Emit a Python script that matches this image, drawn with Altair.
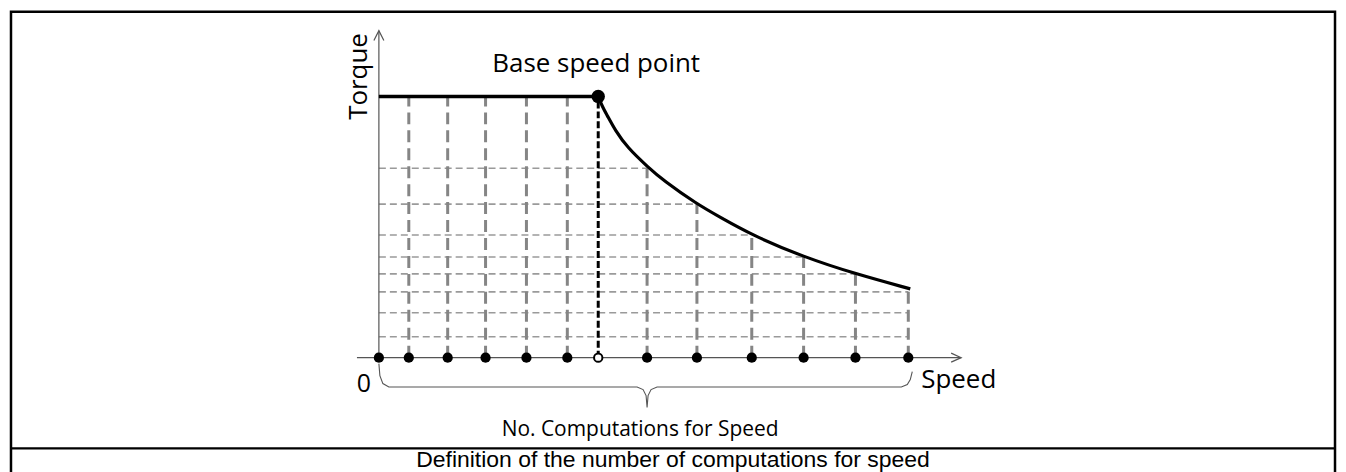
import altair as alt
import pandas as pd

# ---------------- data (drawing units) ----------------
speed_points = [0, 30, 69, 107, 148, 189, 220, 269, 319, 374, 426, 478, 531]
base_index = 6
t_max = 262
vline_tops = [262, 262, 262, 262, 262, 262, 190, 154, 123, 101, 84, 69]  # for speed_points[1:]
curve_speed = [220, 224, 229, 237, 249, 270, 285, 319, 342, 374, 426, 478, 533]
curve_torque = [262, 252, 243, 228, 211, 191, 178, 154, 141, 123, 101, 84, 69]
hline_levels = [190, 154, 123, 101, 84, 66, 45, 21]
hline_ends = [269, 319, 374, 426, 478, 531, 531, 531]

axis_x = [-22, 584]
axis_y_top = 328
brace_s = [0, 1, 4, 10, 259, 265, 268, 269, 270, 273, 279, 524, 530, 533, 535]
brace_t = [-6, -18, -26, -29.5, -29.5, -32, -38, -50, -38, -32, -29.5, -29.5, -27, -22, -14]

caption = "Definition of the number of computations for speed"

# ---------------- scales ----------------
XS = alt.Scale(domain=[-369, 959], nice=False, zero=False)
YS = alt.Scale(domain=[-116, 347], nice=False, zero=False)


def X(f="s"):
    return alt.X(f"{f}:Q", scale=XS, axis=None)


def Y(f="t"):
    return alt.Y(f"{f}:Q", scale=YS, axis=None)


# horizontal dashed grid
hgrid = pd.DataFrame({"s": [0] * len(hline_levels), "s2": hline_ends, "t": hline_levels})
hgrid_layer = alt.Chart(hgrid).mark_rule(
    color="#9a9a9a", strokeWidth=1.6, strokeDash=[7, 4]
).encode(x=X(), x2="s2:Q", y=Y())

# vertical dashed grid
vg = pd.DataFrame({"s": speed_points[1:], "t": [0] * 12, "t2": vline_tops})
vg_gray = vg[vg["s"] != speed_points[base_index]]
vg_base = vg[vg["s"] == speed_points[base_index]]
vgrid_layer = alt.Chart(vg_gray).mark_rule(
    color="#858585", strokeWidth=3, strokeDash=[12, 6]
).encode(x=X(), y=Y(), y2="t2:Q")
vbase_layer = alt.Chart(vg_base).mark_rule(
    color="black", strokeWidth=3, strokeDash=[7, 3]
).encode(x=X(), y=Y(), y2="t2:Q")

# axes with open arrow heads
axes = pd.DataFrame({
    "s": [0, 0, -5, 0, 5, axis_x[0], axis_x[1], axis_x[1] - 10, axis_x[1], axis_x[1] - 10],
    "t": [0, axis_y_top, axis_y_top - 10, axis_y_top, axis_y_top - 10, 0, 0, 4.5, 0, -4.5],
    "g": ["ya", "ya", "yh", "yh", "yh", "xa", "xa", "xh", "xh", "xh"],
    "o": list(range(10)),
})
axes_layer = alt.Chart(axes).mark_line(color="#555555", strokeWidth=1.2).encode(
    x=X(), y=Y(), detail="g:N", order="o:Q"
)

# constant torque segment
flat = pd.DataFrame({"s": [0], "s2": [speed_points[base_index]], "t": [t_max]})
flat_layer = alt.Chart(flat).mark_rule(color="black", strokeWidth=3.5).encode(
    x=X(), x2="s2:Q", y=Y()
)

# decreasing torque curve
curve = pd.DataFrame({"s": curve_speed, "t": curve_torque})
curve_layer = alt.Chart(curve).mark_line(
    color="black", strokeWidth=3.2, interpolate="basis"
).encode(x=X(), y=Y())

# computation points on speed axis
pts = pd.DataFrame({"s": speed_points, "t": [0] * len(speed_points)})
pts_fill = pts[pts["s"] != speed_points[base_index]]
pts_open = pts[pts["s"] == speed_points[base_index]]
dots_layer = alt.Chart(pts_fill).mark_point(
    filled=True, color="black", size=105, opacity=1
).encode(x=X(), y=Y())
open_layer = alt.Chart(pts_open).mark_point(
    filled=True, fill="white", stroke="black", strokeWidth=2, size=70, opacity=1
).encode(x=X(), y=Y())

# base speed point
basept = pd.DataFrame({"s": [speed_points[base_index]], "t": [t_max]})
base_layer = alt.Chart(basept).mark_point(
    filled=True, color="black", size=180, opacity=1
).encode(x=X(), y=Y())

# brace
brace = pd.DataFrame({"s": brace_s, "t": brace_t, "o": list(range(len(brace_s)))})
brace_layer = alt.Chart(brace).mark_line(color="#555555", strokeWidth=1.1).encode(
    x=X(), y=Y(), order="o:Q"
)


def text_layer(label, s, t, size, align="center", angle=0, font="Open Sans"):
    df = pd.DataFrame({"s": [s], "t": [t], "label": [label]})
    kw = dict(font=font, fontSize=size, color="black", align=align, baseline="alphabetic")
    if angle:
        kw["angle"] = angle
    return alt.Chart(df).mark_text(**kw).encode(x=X(), y=Y(), text="label:N")


texts = [
    text_layer("Torque", -12, 282, 26, angle=270),
    text_layer("Base speed point", 218, 287, 26),
    text_layer("0", -15, -34, 25),
    text_layer("Speed", 544, -30, 26, align="left"),
    text_layer("No. Computations for Speed", 262, -79, 21),
    text_layer(caption, 295, -110, 23, font="Liberation Sans"),
]

# divider between figure and caption
div = pd.DataFrame({"t": [-91]})
div_layer = alt.Chart(div).mark_rule(color="black", strokeWidth=2.5).encode(y=Y())

chart = alt.layer(
    hgrid_layer, vgrid_layer, vbase_layer, axes_layer, flat_layer, curve_layer,
    brace_layer, dots_layer, open_layer, base_layer, div_layer, *texts
).properties(
    width=1328, height=463,
    padding={"left": 1, "top": 3, "right": 1, "bottom": 0},
    background="white",
).configure_view(stroke="black", strokeWidth=2.5)

chart.save("out.html", embed_options={"renderer": "svg", "actions": False})
